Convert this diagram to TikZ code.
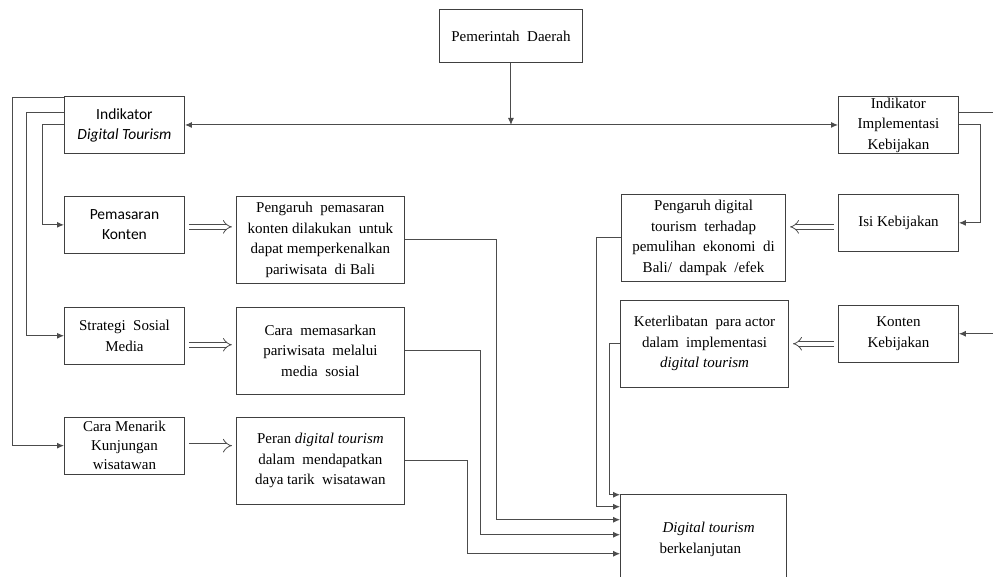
\documentclass[tikz,border=0pt]{standalone}
\usepackage{fontspec}
\setmainfont{Liberation Serif}
\newfontfamily\calibrifont{Carlito}
\usetikzlibrary{positioning, arrows.meta, calc}
\tikzset{
    box/.style={
        draw=black!75,
        line width=0.9pt,
        rectangle,
        align=center,
        inner sep=2pt,
        font=\fontsize{15}{20.5}\selectfont,
    },
    small/.style={box, minimum width=120pt, minimum height=57pt, inner ysep=0pt},
    wide/.style={box, minimum width=168pt, minimum height=87pt},
    sans/.style={font=\calibrifont\fontsize{15.5}{20}\selectfont},
    link/.style={draw=black!70, line width=1pt, -{Latex[length=7pt, width=6pt]}},
    both/.style={link, {Latex[length=7pt, width=6pt]}-{Latex[length=7pt, width=6pt]}},
    hollow/.style={draw=black!70, line width=0.8pt, double=white, double distance=4pt,
        -{Implies[scale=1.6]}, shorten <=4pt, shorten >=4pt},
}

\begin{document}
\begin{tikzpicture}[x=1pt, y=-1pt]
        \useasboundingbox (0,0) rectangle (993,576);
        \node[box, minimum width=143pt, minimum height=53pt, anchor=north west] (pd) at (439,9) {Pemerintah\ \ Daerah};
        \node[small, sans, anchor=north west] (idt) at (64,96) {Indikator\\ \textit{Digital Tourism}};
        \node[small, anchor=north west] (iik) at (838,96) {Indikator\\ Implementasi\\ Kebijakan};
        \node[small, sans, below=42pt of idt] (pk) {Pemasaran\\ Konten};
        \node[small, below=53pt of pk] (ssm) {Strategi\ \ Sosial\\ Media};
        \node[small, below=52pt of ssm, font=\fontsize{15}{19}\selectfont] (cmk) {Cara Menarik\\ Kunjungan\\ wisatawan};
        \node[wide, right=51pt of pk.north east, anchor=north west] (ppk) {Pengaruh\ \ pemasaran\\ konten dilakukan\ \ untuk\\ dapat memperkenalkan\\ pariwisata\ \ di Bali};
        \node[wide, right=51pt of ssm.north east, anchor=north west] (cms) {Cara\ \ memasarkan\\ pariwisata\ \ melalui\\ media\ \ sosial};
        \node[wide, right=51pt of cmk.north east, anchor=north west] (pdg) {Peran \textit{digital tourism}\\ dalam\ \ mendapatkan\\ daya tarik\ \ wisatawan};
        \node[small, below=40pt of iik] (ik) {Isi Kebijakan};
        \node[small, below=53pt of ik] (kk) {Konten\\ Kebijakan};
        \node[wide, minimum width=164pt, left=52pt of ik.north west, anchor=north east] (pdt) {Pengaruh digital\\ tourism\ \ terhadap\\ pemulihan\ \ ekonomi\ \ di\\ Bali/\ \ dampak\ \ /efek};
        \node[wide, left=49pt of kk.north west, anchor=north east, yshift=5pt] (ket) {Keterlibatan\ \ para actor\\ dalam\ \ implementasi\\ \textit{digital tourism}};
        \node[box, align=left, minimum width=166pt, minimum height=90pt, below=106pt of ket.south west, anchor=north west] (dt) {\hspace*{10pt}\textit{Digital tourism}\\ \hspace*{7pt}berkelanjutan};
        \draw[link] (pd.south) -- (pd.south |- idt.east);
        \draw[both] (idt.east) -- (iik.west);
        \draw[link] ([yshift=-1pt]idt.north west) -- ++(-52,0) |- (cmk.west);
        \draw[link] ([yshift=-16pt]idt.north west) -- ++(-38,0) |- (ssm.west);
        \draw[link] (idt.west) -- ++(-22,0) |- (pk.west);
        \draw[link] ([yshift=-16pt]iik.north east) -- ++(45,0) |- (kk.east);
        \draw[link] (iik.east) -- ++(22,0) |- (ik.east);
        \draw[hollow] ($(pk.east)+(0,2)$) -- ($(pk.east -| ppk.west)+(0,2)$);
        \draw[hollow] ($(ssm.east)+(0,9)$) -- ($(ssm.east -| cms.west)+(0,9)$);
        \draw[hollow] (cmk.east) -- (cmk.east -| pdg.west);
        \draw[hollow] ($(ik.west)+(0,4)$) -- ($(ik.west -| pdt.east)+(0,4)$);
        \draw[hollow] ($(kk.west)+(0,10)$) -- ($(kk.west -| ket.east)+(0,10)$);
        \draw[link] (ket.west) -- ++(-11,0) |- ([yshift=-1pt]dt.north west);
        \draw[link] (pdt.west) -- ++(-25,0) |- ([yshift=-13pt]dt.north west);
        \draw[link] (ppk.east) -- ++(92,0) |- ([yshift=-26pt]dt.north west);
        \draw[link] (cms.east) -- ++(76,0) |- ([yshift=-41pt]dt.north west);
        \draw[link] (pdg.east) -- ++(63,0) |- ([yshift=-60pt]dt.north west);
\end{tikzpicture}
\end{document}
